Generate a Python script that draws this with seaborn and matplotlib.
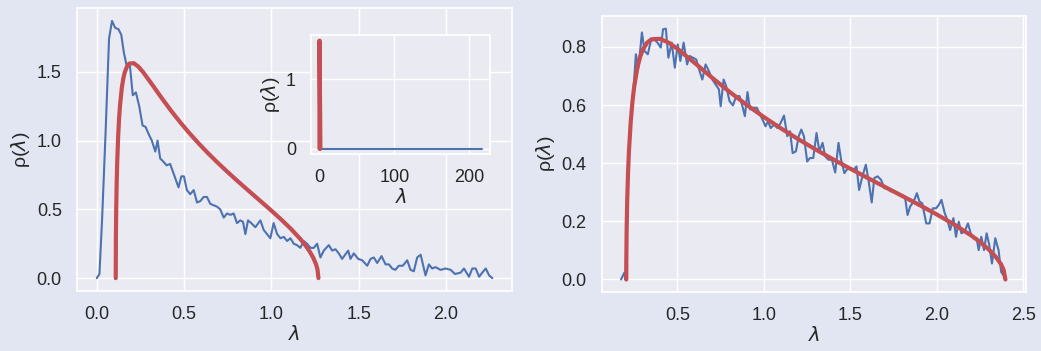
import matplotlib
matplotlib.use("Agg")
import matplotlib.pyplot as plt
import seaborn as sns
import numpy as np

# ---------------- data ----------------
# left panel: empirical spectrum (blue) and fitted density (red)
left_emp_x = [0.0, 0.015, 0.03, 0.05, 0.07, 0.087, 0.105, 0.124, 0.14, 0.155, 0.17, 0.19,
              0.206, 0.224, 0.243, 0.262, 0.279, 0.296, 0.315, 0.335, 0.348, 0.363, 0.379,
              0.40, 0.42, 0.44, 0.468, 0.484, 0.499, 0.516, 0.535, 0.555, 0.574, 0.593,
              0.612, 0.631, 0.65, 0.669, 0.688, 0.707, 0.727, 0.746, 0.765, 0.784, 0.803,
              0.822, 0.837, 0.851, 0.866, 0.885, 0.908, 0.937, 0.956, 0.975, 0.994, 1.013,
              1.033, 1.052, 1.071, 1.09, 1.109, 1.128, 1.147, 1.166, 1.185, 1.204, 1.224,
              1.243, 1.262, 1.281, 1.30, 1.329, 1.348, 1.367, 1.386, 1.405, 1.44, 1.453,
              1.472, 1.497, 1.52, 1.549, 1.568, 1.587, 1.606, 1.631, 1.654, 1.673, 1.692,
              1.71, 1.73, 1.753, 1.778, 1.797, 1.816, 1.835, 1.855, 1.868, 1.883, 1.902,
              1.921, 1.94, 1.969, 1.998, 2.027, 2.052, 2.084, 2.103, 2.132, 2.151, 2.17,
              2.19, 2.208, 2.228, 2.247, 2.266]
left_emp_y = [0.0, 0.03, 0.42, 1.05, 1.74, 1.87, 1.82, 1.81, 1.77, 1.64, 1.55, 1.54,
              1.33, 1.35, 1.25, 1.11, 1.10, 1.05, 1.00, 0.92, 1.00, 0.87, 0.85,
              0.82, 0.83, 0.76, 0.66, 0.74, 0.74, 0.64, 0.61, 0.64, 0.55, 0.56,
              0.59, 0.59, 0.54, 0.53, 0.52, 0.50, 0.44, 0.47, 0.46, 0.47, 0.40,
              0.42, 0.41, 0.32, 0.42, 0.40, 0.37, 0.42, 0.35, 0.32, 0.29, 0.40,
              0.32, 0.29, 0.30, 0.27, 0.29, 0.25, 0.24, 0.22, 0.27, 0.25, 0.22,
              0.22, 0.25, 0.15, 0.20, 0.24, 0.20, 0.21, 0.18, 0.14, 0.20, 0.14,
              0.18, 0.14, 0.13, 0.09, 0.14, 0.15, 0.11, 0.16, 0.10, 0.10, 0.07,
              0.06, 0.09, 0.09, 0.13, 0.06, 0.05, 0.15, 0.17, 0.10, 0.02, 0.10,
              0.07, 0.08, 0.06, 0.07, 0.06, 0.03, 0.04, 0.07, 0.01, 0.07, 0.07,
              0.01, 0.04, 0.07, 0.02, 0.00]

left_fit_x = [0.1084, 0.1094, 0.1113, 0.1140, 0.1166, 0.1219, 0.1272, 0.1325, 0.1431,
              0.1511, 0.1590, 0.1723, 0.1855, 0.2120,
              0.2385, 0.265, 0.318, 0.371, 0.424, 0.477, 0.53, 0.583, 0.636, 0.689,
              0.742, 0.795, 0.848, 0.901, 0.954, 1.007, 1.06, 1.113, 1.166, 1.1925,
              1.219, 1.2402, 1.2561, 1.2641, 1.2696]
left_fit_y = [0.0, 0.3126, 0.5177, 0.7011, 0.8328, 1.0206, 1.1521, 1.2496, 1.3823,
              1.4468, 1.4917, 1.5377, 1.5596, 1.5625,
              1.5370, 1.4979, 1.4057, 1.3106, 1.2194, 1.1342, 1.0545, 0.9800, 0.9098,
              0.8434, 0.7800, 0.7187, 0.6591, 0.6004, 0.5419, 0.4828, 0.4217, 0.3566,
              0.2842, 0.2426, 0.1945, 0.1472, 0.0991, 0.0632, 0.0]

# inset: full spectrum including the large outlier
inset_emp_x = [0.0, 2.2, 50.0, 100.0, 150.0, 200.0, 217.0]
inset_emp_y = [0.0, 0.0, 0.0, 0.0, 0.0, 0.0, 0.0]

# right panel
right_emp_x = [0.174, 0.193, 0.2, 0.21, 0.225, 0.241, 0.26, 0.275, 0.295, 0.31, 0.329,
               0.346, 0.366, 0.385, 0.404, 0.417, 0.433, 0.448, 0.467, 0.485, 0.502,
               0.517, 0.536, 0.556, 0.571, 0.59, 0.609, 0.625, 0.644, 0.663, 0.682,
               0.702, 0.721, 0.74, 0.75, 0.767, 0.782, 0.801, 0.821, 0.84, 0.859,
               0.878, 0.89, 0.905, 0.92, 0.94, 0.959, 0.978, 0.997, 1.009, 1.024,
               1.039, 1.059, 1.078, 1.097, 1.116, 1.135, 1.151, 1.166, 1.185, 1.201,
               1.216, 1.231, 1.25, 1.266, 1.285, 1.304, 1.32, 1.339, 1.354, 1.373,
               1.393, 1.412, 1.431, 1.446, 1.465, 1.485, 1.504, 1.519, 1.535, 1.55,
               1.569, 1.589, 1.604, 1.623, 1.638, 1.657, 1.677, 1.696, 1.715, 1.734,
               1.753, 1.776, 1.796, 1.815, 1.83, 1.845, 1.865, 1.884, 1.899, 1.915,
               1.938, 1.957, 1.976, 1.995, 2.011, 2.026, 2.045, 2.06, 2.076, 2.095,
               2.11, 2.126, 2.141, 2.16, 2.179, 2.195, 2.21, 2.229, 2.241, 2.256,
               2.272, 2.287, 2.302, 2.318, 2.337, 2.356, 2.371, 2.391, 2.40]
right_emp_y = [0.0, 0.023, 0.0, 0.30, 0.50, 0.608, 0.775, 0.729, 0.85, 0.786, 0.775,
               0.82, 0.826, 0.815, 0.798, 0.861, 0.863, 0.763, 0.815, 0.729, 0.809,
               0.752, 0.815, 0.74, 0.769, 0.763, 0.757, 0.723, 0.688, 0.74, 0.717,
               0.688, 0.671, 0.654, 0.596, 0.688, 0.665, 0.614, 0.599, 0.631, 0.631,
               0.591, 0.562, 0.645, 0.585, 0.591, 0.591, 0.567, 0.544, 0.527, 0.544,
               0.521, 0.533, 0.521, 0.539, 0.564, 0.493, 0.51, 0.435, 0.441, 0.493,
               0.516, 0.493, 0.406, 0.418, 0.418, 0.504, 0.441, 0.47, 0.424, 0.412,
               0.412, 0.368, 0.47, 0.412, 0.366, 0.383, 0.383, 0.378, 0.389, 0.308,
               0.355, 0.395, 0.343, 0.265, 0.349, 0.355, 0.343, 0.314, 0.314, 0.303,
               0.303, 0.297, 0.291, 0.285, 0.222, 0.251, 0.268, 0.297, 0.268, 0.262,
               0.193, 0.193, 0.245, 0.245, 0.257, 0.274, 0.228, 0.205, 0.170, 0.211,
               0.147, 0.199, 0.159, 0.165, 0.193, 0.159, 0.142, 0.142, 0.101, 0.147,
               0.101, 0.159, 0.119, 0.055, 0.142, 0.101, 0.026, 0.009, 0.0]

right_fit_x = [0.2046, 0.205, 0.2065, 0.21, 0.215, 0.22, 0.23, 0.24, 0.25, 0.27, 0.285,
               0.30, 0.325, 0.35, 0.40, 0.45,
               0.5, 0.6, 0.7, 0.8, 0.9, 1.0, 1.1, 1.2, 1.3, 1.4, 1.5, 1.6, 1.7, 1.8,
               1.9, 2.0, 2.1, 2.2, 2.25, 2.3, 2.34, 2.37, 2.385, 2.3954]
right_fit_y = [0.0, 0.0766, 0.1657, 0.2744, 0.3716, 0.4414, 0.5409, 0.6106, 0.6623,
               0.7326, 0.7668, 0.7906, 0.8150, 0.8266,
               0.8281, 0.8146, 0.7939, 0.7450, 0.6946, 0.6463, 0.6011, 0.5589, 0.5194,
               0.4822, 0.4470, 0.4134, 0.3809, 0.3493, 0.3182, 0.2872, 0.2559, 0.2235,
               0.1890, 0.1506, 0.1286, 0.1031, 0.0780, 0.0525, 0.0335, 0.0]

# ---------------- style ----------------
sns.set_theme(style="darkgrid")
plt.rcParams['font.family'] = ['Liberation Sans', 'DejaVu Sans']
plt.rcParams['mathtext.fontset'] = 'dejavusans'

BLUE = "#4c72b0"
RED = "#c44e52"
TICK = 13
LAB = 14

fig = plt.figure(figsize=(10.41, 3.51), dpi=100)
fig.patch.set_facecolor("#e1e6f2")

ax1 = fig.add_axes([0.074, 0.171, 0.418, 0.806])
ax2 = fig.add_axes([0.578, 0.168, 0.408, 0.786])
axi = fig.add_axes([0.299, 0.561, 0.172, 0.339])

sns.lineplot(x=left_emp_x, y=left_emp_y, ax=ax1, color=BLUE, lw=1.5, sort=False)
sns.lineplot(x=left_fit_x, y=left_fit_y, ax=ax1, color=RED, lw=3.0, sort=False)

sns.lineplot(x=inset_emp_x, y=inset_emp_y, ax=axi, color=BLUE, lw=1.5, sort=False)
sns.lineplot(x=left_fit_x, y=left_fit_y, ax=axi, color=RED, lw=3.0, sort=False)

sns.lineplot(x=right_emp_x, y=right_emp_y, ax=ax2, color=BLUE, lw=1.5, sort=False)
sns.lineplot(x=right_fit_x, y=right_fit_y, ax=ax2, color=RED, lw=3.0, sort=False)

for ax in (ax1, ax2, axi):
    ax.set_xlabel(r"$\lambda$", fontsize=LAB, labelpad=1)
    ax.set_ylabel(r"ρ($\lambda$)", fontsize=LAB, labelpad=3)
    ax.tick_params(labelsize=TICK, pad=5)
    for s in ax.spines.values():
        s.set_color("white")
        s.set_linewidth(1.25)

ax1.set_yticks([0.0, 0.5, 1.0, 1.5])
ax1.set_xticks([0.0, 0.5, 1.0, 1.5, 2.0])
ax2.set_yticks([0.0, 0.2, 0.4, 0.6, 0.8])
ax2.set_xticks([0.5, 1.0, 1.5, 2.0, 2.5])
ax2.set_xlim(0.0625, 2.517)
axi.set_xticks([0, 100, 200])
axi.set_yticks([0, 1])

fig.savefig("out.png", dpi=100, facecolor=fig.get_facecolor())
